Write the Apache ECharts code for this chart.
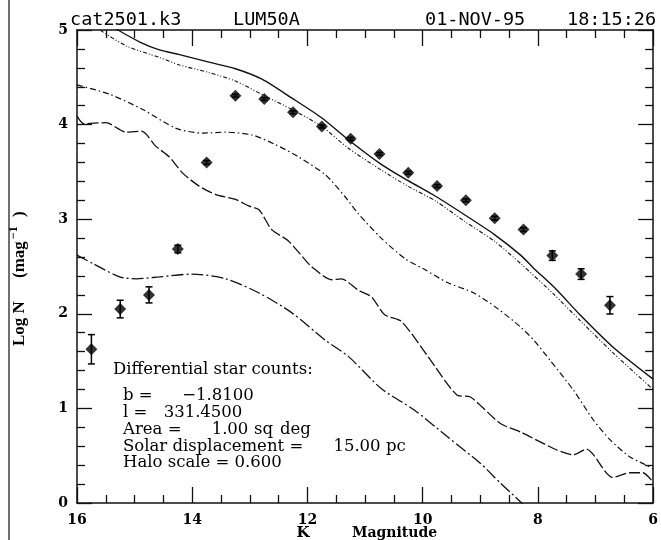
<!DOCTYPE html>
<html>
<head>
<meta charset="utf-8">
<script src="https://cdn.jsdelivr.net/npm/echarts@6/dist/echarts.min.js"></script>
<style>
  html, body { margin: 0; padding: 0; background: #fff; }
  #chart { width: 661px; height: 540px; }
</style>
</head>
<body>
<div id="chart"></div>
<script>
// ---- Data ----
const xTicks = [16, 14, 12, 10, 8, 6];
const yTicks = [0, 1, 2, 3, 4, 5];

// observed differential star counts
const kMag = [15.75, 15.25, 14.75, 14.25, 13.75, 13.25, 12.75, 12.25, 11.75, 11.25,
              10.75, 10.25, 9.75, 9.25, 8.75, 8.25, 7.75, 7.25, 6.75];
const logN = [1.625, 2.05, 2.20, 2.685, 3.60, 4.305, 4.27, 4.13, 3.98, 3.85,
              3.69, 3.49, 3.35, 3.20, 3.01, 2.89, 2.615, 2.42, 2.09];
const logNErr = [0.155, 0.093, 0.085, 0.04, 0.02, 0.015, 0.015, 0.015, 0.015, 0.015,
                 0.015, 0.015, 0.015, 0.015, 0.02, 0.02, 0.05, 0.056, 0.092];

// model curves [K, logN]
const modelSolid = [[15.5, 5.08], [15.29, 5.0], [14.9, 4.87], [14.57, 4.79], [14.22, 4.74],
  [13.71, 4.66], [13.25, 4.59], [12.79, 4.48], [12.27, 4.28], [11.75, 4.07], [11.29, 3.84],
  [10.72, 3.58], [10.26, 3.41], [9.77, 3.24], [9.28, 3.05], [8.76, 2.84], [8.30, 2.62],
  [8.07, 2.48], [7.70, 2.27], [7.27, 1.99], [6.70, 1.65], [6.0, 1.31]];
const modelDotted = [[15.75, 5.08], [15.6, 5.0], [15.14, 4.83], [14.57, 4.71], [14.22, 4.63],
  [13.71, 4.55], [13.25, 4.46], [12.73, 4.30], [12.27, 4.16], [11.75, 3.98], [11.29, 3.75],
  [10.72, 3.52], [10.26, 3.35], [9.77, 3.19], [9.28, 2.98], [8.76, 2.77], [8.28, 2.52],
  [7.73, 2.21], [7.27, 1.93], [6.70, 1.59], [6.0, 1.20]];
const modelDashDot = [[16.0, 4.42], [15.43, 4.32], [14.86, 4.16], [14.28, 3.96], [13.82, 3.91],
  [13.42, 3.92], [12.96, 3.89], [12.56, 3.79], [12.16, 3.66], [11.69, 3.47], [11.35, 3.24],
  [11.12, 3.06], [10.72, 2.80], [10.30, 2.58], [9.97, 2.47], [9.57, 2.33], [9.11, 2.22],
  [8.71, 2.06], [8.30, 1.86], [8.07, 1.72], [7.79, 1.51], [7.38, 1.19], [7.04, 0.88],
  [6.75, 0.67], [6.41, 0.49], [6.12, 0.40], [6.0, 0.36]];
const modelDashed = [[16.0, 4.09], [15.88, 4.01], [15.5, 4.02], [15.14, 3.92], [14.88, 3.93],
  [14.63, 3.77], [14.40, 3.66], [14.17, 3.49], [13.88, 3.35], [13.59, 3.26], [13.25, 3.21],
  [13.02, 3.14], [12.84, 3.10], [12.62, 2.89], [12.33, 2.77], [12.04, 2.57], [11.93, 2.50],
  [11.58, 2.36], [11.41, 2.37], [11.12, 2.25], [10.89, 2.18], [10.66, 1.99], [10.37, 1.92],
  [9.91, 1.55], [9.40, 1.14], [9.17, 1.12], [8.65, 0.84], [8.30, 0.75], [7.67, 0.56],
  [7.38, 0.51], [7.16, 0.57], [6.70, 0.27], [6.41, 0.32], [6.18, 0.32], [6.0, 0.22]];
const modelLongDashDot = [[16.0, 2.62], [15.72, 2.53], [15.26, 2.39], [14.97, 2.37], [14.57, 2.39],
  [14.0, 2.42], [13.42, 2.37], [12.84, 2.22], [12.27, 2.01], [11.69, 1.72], [11.29, 1.55],
  [10.72, 1.21], [10.14, 0.98], [9.57, 0.70], [9.0, 0.42], [8.65, 0.21], [8.30, 0.01], [8.2, -0.06]];

// ---- Chart ----
const chart = echarts.init(document.getElementById('chart'), null, { renderer: 'canvas' });
const INK = '#111';
const axisLineStyle = { color: INK, width: 1.5 };

function xAxisDef(pos, showLabels) {
  return {
    type: 'value', min: 6, max: 16, interval: 2, inverse: true, position: pos,
    axisLine: { show: true, onZero: false, lineStyle: axisLineStyle },
    axisTick: { show: true, inside: true, length: 16, lineStyle: { color: INK, width: 1.3 } },
    minorTick: { show: true, splitNumber: 4, length: 8, lineStyle: { color: INK, width: 1.3 } },
    splitLine: { show: false },
    axisLabel: {
      show: showLabels, margin: 10, color: '#000',
      fontFamily: 'DejaVu Serif', fontWeight: 'bold', fontSize: 14,
      formatter: v => (xTicks.indexOf(v) >= 0 ? String(v) : '')
    }
  };
}
function yAxisDef(pos, showLabels) {
  return {
    type: 'value', min: 0, max: 5, interval: 1, position: pos,
    axisLine: { show: true, onZero: false, lineStyle: axisLineStyle },
    axisTick: { show: true, inside: true, length: 15, lineStyle: { color: INK, width: 1.3 } },
    minorTick: { show: true, splitNumber: 5, length: 8, lineStyle: { color: INK, width: 1.3 } },
    splitLine: { show: false },
    axisLabel: {
      show: showLabels, margin: 9, color: '#000',
      fontFamily: 'DejaVu Serif', fontWeight: 'bold', fontSize: 14,
      formatter: v => (yTicks.indexOf(v) >= 0 ? String(v) : '')
    }
  };
}

function lineSeries(data, dash, width) {
  return {
    type: 'line', data: data, showSymbol: false, symbol: 'none', smooth: 0.25,
    clip: true, silent: true, z: 3,
    lineStyle: { color: INK, width: width, type: dash }
  };
}

function txt(text, x, y, opts) {
  const o = opts || {};
  return {
    type: 'text', x: x, y: y, silent: true,
    style: {
      text: text,
      fontFamily: o.family || 'DejaVu Serif',
      fontSize: o.size || 16.5,
      fontWeight: o.weight || 'normal',
      fill: '#000',
      align: o.align || 'left', textAlign: o.align || 'left',
      verticalAlign: 'middle', textVerticalAlign: 'middle'
    }
  };
}

const mono = { family: 'DejaVu Sans Mono', size: 18.5 };
const yl = { family: 'Liberation Serif', size: 17, weight: 'bold' };
const C = { align: 'center' };

const option = {
  backgroundColor: '#fff',
  animation: false,
  grid: { left: 77, right: 4, top: 30, bottom: 37, containLabel: false },
  xAxis: [xAxisDef('bottom', true), xAxisDef('top', false)],
  yAxis: [yAxisDef('left', true), yAxisDef('right', false)],
  series: [
    lineSeries(modelSolid, 'solid', 1.4),
    lineSeries(modelDotted, [4, 2, 1, 2, 1, 2], 1.1),
    lineSeries(modelDashDot, [6, 3, 1.5, 3], 1.2),
    lineSeries(modelDashed, [11, 3], 1.3),
    lineSeries(modelLongDashDot, [12, 3, 2, 3], 1.3),
    {
      type: 'custom', z: 4, silent: true,
      data: kMag.map((k, i) => [k, logN[i], logNErr[i]]),
      encode: { x: 0, y: 1 },
      renderItem: function (params, api) {
        const x = api.value(0), y = api.value(1), e = api.value(2);
        const t = api.coord([x, y + e]);
        const b = api.coord([x, y - e]);
        const hw = 3.5;
        const st = { stroke: '#000', lineWidth: 1.5 };
        return {
          type: 'group',
          children: [
            { type: 'line', shape: { x1: t[0], y1: t[1], x2: b[0], y2: b[1] }, style: st },
            { type: 'line', shape: { x1: t[0] - hw, y1: t[1], x2: t[0] + hw, y2: t[1] }, style: st },
            { type: 'line', shape: { x1: b[0] - hw, y1: b[1], x2: b[0] + hw, y2: b[1] }, style: st }
          ]
        };
      }
    },
    {
      type: 'scatter', z: 5, silent: true,
      data: kMag.map((k, i) => [k, logN[i]]),
      symbol: 'diamond', symbolSize: [12, 12],
      itemStyle: { color: '#000' }
    }
  ],
  graphic: [
    { type: 'line', silent: true, shape: { x1: 9, y1: 0, x2: 9, y2: 540 }, style: { stroke: '#333', lineWidth: 1.4 } },
    txt('cat2501.k3', 70, 20.5, mono),
    txt('LUM50A', 233, 20.5, mono),
    txt('01-NOV-95', 425, 20.5, mono),
    txt('18:15:26', 567, 20.5, mono),
    txt('K', 303, 533.5, { size: 15, weight: 'bold', align: 'center' }),
    txt('Magnitude', 352, 533.5, { size: 14, weight: 'bold' }),
    {
      type: 'group', x: 20, y: 346, rotation: Math.PI / 2, silent: true,
      children: [
        txt('Log N', 0, 0, yl),
        txt('(mag', 68, 0, yl),
        txt('\u22121', 107, -6, { family: 'Liberation Serif', size: 12, weight: 'bold' }),
        txt(')', 129, 0, yl)
      ]
    },
    txt('Differential star counts:', 113, 370),
    txt('b =', 123, 396),
    txt('\u22121.8100', 218, 396, C),
    txt('l =', 123, 412.5),
    txt('331.4500', 203, 412.5, C),
    txt('Area =', 123, 430),
    txt('1.00', 230, 430, C),
    txt('sq', 254, 430),
    txt('deg', 280, 430),
    txt('Solar displacement =', 123, 446.5),
    txt('15.00', 357, 446.5, C),
    txt('pc', 386, 446.5),
    txt('Halo scale = 0.600', 123, 462.5)
  ]
};
chart.setOption(option);
</script>
</body>
</html>
